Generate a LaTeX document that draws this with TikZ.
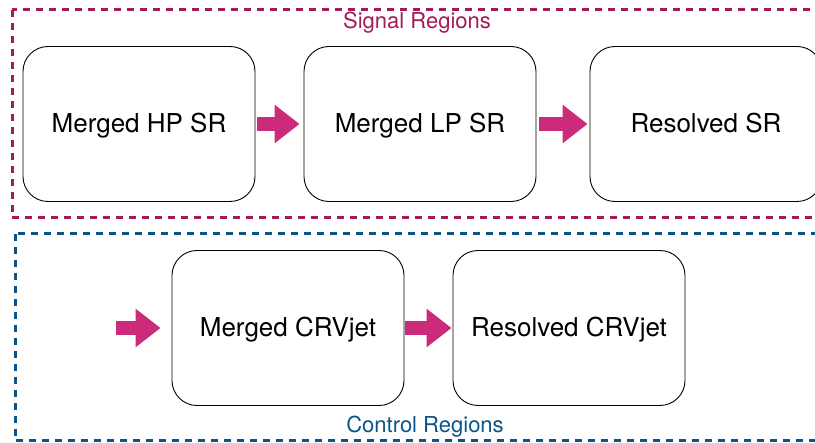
\documentclass[tikz,border=0pt]{standalone}
\usepackage{fontspec}
\setmainfont{TeX Gyre Heros}
\usepackage{tikz}
\usetikzlibrary{arrows.meta, positioning}

\definecolor{sigcol}{HTML}{A3195B}
\definecolor{crcol}{HTML}{0B5488}
\definecolor{flowcol}{HTML}{CC2B7B}

\begin{document}
\begin{tikzpicture}[
        x=1pt, y=-1pt,
        region/.style={draw, rounded corners=25pt, line width=0.9pt, minimum width=232pt, minimum height=155pt, inner sep=0pt, text depth=3pt, font=\fontsize{26}{30}\selectfont},
        sigbox/.style={draw=sigcol, line width=3pt, dash pattern=on 7pt off 6pt},
        crbox/.style={draw=crcol, line width=3pt, dash pattern=on 7pt off 6pt},
        flow/.style={draw=flowcol, line width=14pt, -{Triangle[length=25pt, width=37pt]}, flowcol}
    ]
    \clip (0,0) rectangle (815,443);

    % Region boundaries
    \draw[sigbox] (12,10) rectangle (840,218);
    \node[text=sigcol, font=\fontsize{22}{26}\selectfont] (siglabel) at (417,23) {Signal Regions};
    \draw[crbox] (15,234) rectangle (840,441);
    \node[text=crcol, font=\fontsize{22}{26}\selectfont] (crlabel) at (425,427) {Control Regions};

    % Signal regions
    \node[region] (hp) at (139,124) {Merged HP SR};
    \node[region] (lp) at (420,124) {Merged LP SR};
    \node[region] (res) at (706,124) {Resolved SR};

    % Control regions
    \node[region] (crm) at (288,328) {Merged CRVjet};
    \node[region] (crr) at (569,328) {Resolved CRVjet};
    \coordinate (crin) at (116,328);

    % Flow
    \draw[flow, shorten <=2pt, shorten >=4pt] (hp) -- (lp);
    \draw[flow, shorten <=3pt, shorten >=2pt] (lp) -- (res);
    \draw[flow, shorten >=11pt] (crin) -- (crm);
    \draw[flow, shorten <=1pt, shorten >=1pt] (crm) -- (crr);

\end{tikzpicture}
\end{document}
